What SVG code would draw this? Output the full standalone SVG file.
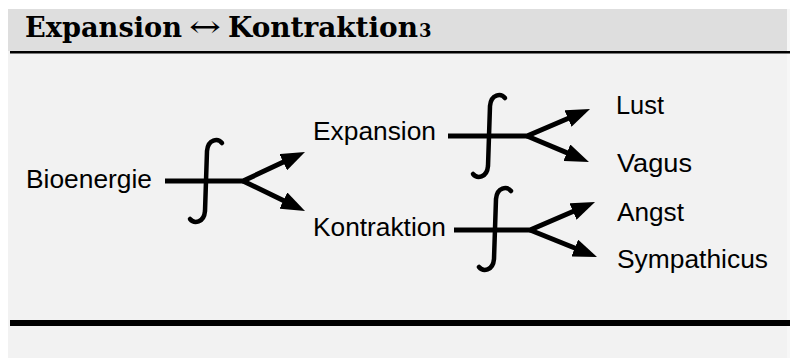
<svg xmlns="http://www.w3.org/2000/svg" xmlns:xlink="http://www.w3.org/1999/xlink" width="790" height="358" viewBox="0 0 790 358">
  <style>
    .label { font-family: "Liberation Sans", Arial, sans-serif; font-size: 25px; fill: #000; }
    .title { font-family: "DejaVu Serif", Georgia, serif; font-weight: bold; font-size: 27px; fill: #000; }
    .wire { fill: none; stroke: #000; stroke-width: 5; stroke-linejoin: miter; stroke-linecap: butt; }
    .arrow { marker-end: url(#head); }
    .integral { fill: none; stroke: #000; stroke-width: 4.5; stroke-linecap: round; }
  </style>
  <defs>
    <marker id="head" viewBox="0 0 24 18" refX="12" refY="9" markerWidth="24" markerHeight="18" markerUnits="userSpaceOnUse" orient="auto">
      <path d="M0,0 L24,9 L0,18 Z" fill="#000"/>
    </marker>
    <!-- integral-shaped switch symbol, centred on the wire -->
    <path id="integral" d="M16,-38 C12,-43 2,-42 1,-30 L-1,30 C-2,42 -12,43 -16,38"/>
  </defs>

  <!-- panel -->
  <rect x="0" y="0" width="790" height="358" fill="#ffffff"/>
  <rect x="8" y="9" width="779" height="349" fill="#f2f2f2"/>
  <rect x="787" y="9" width="3" height="349" fill="#f7f7f7"/>
  <rect x="8" y="9" width="779" height="42" fill="#dedede"/>
  <rect x="10" y="51" width="780" height="2.5" fill="#000"/>
  <rect x="10" y="320" width="780" height="6" fill="#000"/>

  <g id="title">
    <text class="title" y="37"><tspan x="25" textLength="157" lengthAdjust="spacingAndGlyphs">Expansion</tspan><tspan x="189" font-size="30" font-weight="normal" textLength="32" lengthAdjust="spacingAndGlyphs">↔</tspan><tspan x="228" textLength="190" lengthAdjust="spacingAndGlyphs">Kontraktion</tspan><tspan x="419" font-size="18">3</tspan></text>
  </g>

  <g id="connectors">
    <!-- Bioenergie fork -->
    <path class="wire arrow" d="M165,181 H243 L294.1,157.1"/>
    <path class="wire arrow" d="M243,181 L294.2,205.8"/>
    <use xlink:href="#integral" class="integral" transform="translate(206,181)"/>
    <!-- Expansion fork -->
    <path class="wire arrow" d="M448,136 H527 L579,113.7"/>
    <path class="wire arrow" d="M527,136 L577.9,157.4"/>
    <use xlink:href="#integral" class="integral" transform="translate(489,136)"/>
    <!-- Kontraktion fork -->
    <path class="wire arrow" d="M454,230 H530 L584,206.8"/>
    <path class="wire arrow" d="M530,230 L585.9,252.5"/>
    <use xlink:href="#integral" class="integral" transform="translate(495,229)"/>
  </g>

  <g id="node-bioenergie"><text class="label" x="26" y="188" textLength="126" lengthAdjust="spacingAndGlyphs">Bioenergie</text></g>
  <g id="node-expansion"><text class="label" x="313" y="140" textLength="123" lengthAdjust="spacingAndGlyphs">Expansion</text></g>
  <g id="node-kontraktion"><text class="label" x="313" y="236" textLength="133" lengthAdjust="spacingAndGlyphs">Kontraktion</text></g>
  <g id="node-lust"><text class="label" x="616" y="114" textLength="48" lengthAdjust="spacingAndGlyphs">Lust</text></g>
  <g id="node-vagus"><text class="label" x="617" y="172" textLength="75" lengthAdjust="spacingAndGlyphs">Vagus</text></g>
  <g id="node-angst"><text class="label" x="617" y="221" textLength="67" lengthAdjust="spacingAndGlyphs">Angst</text></g>
  <g id="node-sympathicus"><text class="label" x="617" y="268" textLength="151" lengthAdjust="spacingAndGlyphs">Sympathicus</text></g>
</svg>
